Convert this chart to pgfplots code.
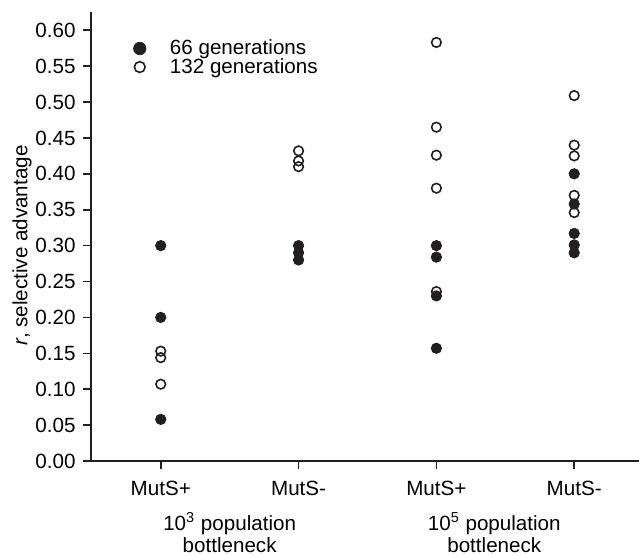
\documentclass[border=0pt]{standalone}
\usepackage{fontspec}
\setmainfont{Liberation Sans}
\usepackage{pgfplots}
\pgfplotsset{compat=1.18}
\usetikzlibrary{calc}
\definecolor{ink}{HTML}{231F20}

\begin{document}
\begin{tikzpicture}[font=\fontsize{10.3}{12}\selectfont]
\begin{axis}[
  name=ax,
  scale only axis,
  width=274pt, height=224.35pt,
  xmin=0.494, xmax=4.47,
  ymin=0, ymax=0.625,
  axis lines*=left,
  axis line style={ink, line width=0.8pt, -},
  tick style={ink, line width=0.8pt},
  tick align=outside,
  major tick length=4.2pt,
  xtick={1,2,3,4},
  xticklabels={MutS+,MutS-,MutS+,MutS-},
  xticklabel style={yshift=-2.5pt},
  ytick={0,0.05,0.1,0.15,0.2,0.25,0.3,0.35,0.4,0.45,0.5,0.55,0.6},
  /pgf/number format/assume math mode=true,
  yticklabel style={/pgf/number format/.cd, fixed, fixed zerofill, precision=2, /tikz/.cd},
  ylabel={\textit{r}, selective advantage},
  ylabel style={at={(ticklabel cs:0.48)}, yshift=-5pt},
  legend style={draw=none, fill=none, at={(axis description cs:0.066,0.958)}, anchor=north west,
    font=\fontsize{10.3}{12}\selectfont, row sep=-3.7pt,
    /tikz/every odd column/.append style={column sep=10pt}},
  legend cell align=left,
  reverse legend,
  clip=false,
]
% 132 generations (open)
\addplot[only marks, mark=o, mark size=2.4pt, mark options={ink, line width=0.8pt},
  legend image post style={mark size=2.7pt, line width=1.1pt}] coordinates {
  (1,0.153) (1,0.144) (1,0.107)
  (2,0.432) (2,0.418) (2,0.410)
  (3,0.583) (3,0.465) (3,0.426) (3,0.380) (3,0.236)
  (4,0.509) (4,0.440) (4,0.425) (4,0.370) (4,0.346)
};
\addlegendentry{132 generations}
% 66 generations (filled)
\addplot[only marks, mark=*, mark size=2.6pt, mark options={ink, fill=ink, line width=0.4pt},
  legend image post style={mark size=3.1pt}] coordinates {
  (1,0.300) (1,0.200) (1,0.058)
  (2,0.300) (2,0.290) (2,0.280)
  (3,0.300) (3,0.284) (3,0.230) (3,0.157)
  (4,0.400) (4,0.358) (4,0.317) (4,0.301) (4,0.290)
};
\addlegendentry{66 generations}
\node[anchor=base, align=center, font=\fontsize{10.3}{11}\selectfont] at ([yshift=-45.5pt]axis cs:1.5,0) {10\textsuperscript{3} population\\bottleneck};
\node[anchor=base, align=center, font=\fontsize{10.3}{11}\selectfont] at ([yshift=-45.5pt]axis cs:3.42,0) {10\textsuperscript{5} population\\bottleneck};
\end{axis}
\pgfresetboundingbox
\path ($(ax.south west)+(-45.5pt,-47pt)$) rectangle ($(ax.north east)+(0pt,6.15pt)$);
\end{tikzpicture}
\end{document}
